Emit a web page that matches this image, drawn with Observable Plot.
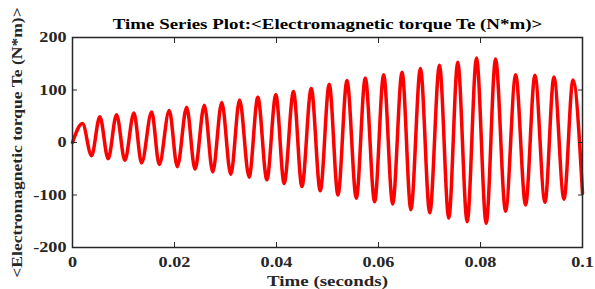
<!DOCTYPE html>
<html>
<head>
<meta charset="utf-8">
<script src="https://cdn.jsdelivr.net/npm/d3@7"></script>
<script src="https://cdn.jsdelivr.net/npm/@observablehq/plot@0.6"></script>
<style>
  html, body { margin: 0; padding: 0; background: #fff; }
  #chart svg { display: block; }
</style>
</head>
<body>
<div id="chart"></div>
<script>
// Extremum times (s) of the torque trace
const times = [0, 0.00196, 0.00373, 0.00536, 0.00699, 0.00864, 0.01027, 0.01204, 0.01355,
  0.01552, 0.01701, 0.01897, 0.02055, 0.02239, 0.02402, 0.02585, 0.0275, 0.02927, 0.03104,
  0.03276, 0.03463, 0.03634, 0.03811, 0.03987, 0.0415, 0.04333, 0.04498, 0.04681, 0.04858,
  0.05034, 0.05205, 0.05382, 0.05565, 0.05741, 0.05924, 0.06101, 0.06278, 0.06462, 0.06635,
  0.06822, 0.07005, 0.07195, 0.07378, 0.07554, 0.07739, 0.07922, 0.08112, 0.08295, 0.08492,
  0.08689, 0.08884, 0.09067, 0.09264, 0.0944, 0.09637, 0.09813, 0.1];
// Torque values (N*m) at those times
const torque = [0, 36, -25, 49, -31, 53, -34, 56, -39,
  58, -42, 61, -46, 67, -51, 71, -56, 76, -61,
  81, -66, 86, -71, 91, -78, 97, -84, 103, -92,
  111, -100, 118, -106, 123, -113, 129, -117, 134, -128,
  141, -134, 147, -144, 153, -151, 161, -154, 159, -131,
  129, -119, 128, -114, 125, -108, 119, -97];
const xTicks = [0, 0.02, 0.04, 0.06, 0.08, 0.1];
const xTickLabels = ["0", "0.02", "0.04", "0.06", "0.08", "0.1"];
const yTicks = [-200, -100, 0, 100, 200];
const yTickLabels = ["-200", "-100", "0", "100", "200"];
const title = "Time Series Plot:<Electromagnetic torque Te (N*m)>";
const xLabel = "Time (seconds)";
const yLabel = "<Electromagnetic torque Te (N*m)>";

const data = times.map((t, i) => ({t, v: torque[i]}));
const font = "'Liberation Serif', 'Times New Roman', serif";
const ink = "#262626";

const chart = Plot.plot({
  width: 595,
  height: 289,
  marginLeft: 72,
  marginRight: 13,
  marginTop: 37,
  marginBottom: 42,
  style: {fontFamily: font, fontWeight: "bold", fontSize: "15px", color: ink, background: "#fff"},
  x: {domain: [0, 0.1]},
  y: {domain: [-200, 200]},
  marks: [
    Plot.line(data, {x: "t", y: "v", stroke: "#ff0000", strokeWidth: 3.5, curve: "monotone-x"}),
    Plot.frame({stroke: ink, strokeWidth: 1.5}),
    Plot.axisX(xTicks, {anchor: "bottom", tickSize: -5, tickPadding: 14, tickFormat: (d, i) => xTickLabels[i], fontSize: 15, label: null, stroke: ink, fill: ink, className: "ticklbl"}),
    Plot.axisX(xTicks, {anchor: "top", tickSize: -5, text: null, label: null, stroke: ink}),
    Plot.axisY(yTicks, {anchor: "left", tickSize: -5, tickPadding: 11, tickFormat: (d, i) => yTickLabels[i], fontSize: 15, label: null, stroke: ink, fill: ink, className: "ticklbl"}),
    Plot.axisY(yTicks, {anchor: "right", tickSize: -5, text: null, label: null, stroke: ink}),
    Plot.text([title], {frameAnchor: "top", dy: -19, fontSize: 15, fontWeight: "bold", fill: "#000", className: "ttl"}),
    Plot.text([xLabel], {frameAnchor: "bottom", dy: 38, fontSize: 15, fontWeight: "bold", fill: ink, className: "ttl"}),
    Plot.text([yLabel], {frameAnchor: "left", textAnchor: "middle", dx: -55, rotate: -90, fontSize: 15, fontWeight: "bold", fill: ink, className: "ylbl"})
  ]
});
document.getElementById("chart").appendChild(chart);

// The reference's lettering is horizontally stretched; widen glyphs to match
function stretch(selector, k) {
  d3.select(chart).selectAll(selector + " text").each(function() {
    const L = this.getComputedTextLength();
    if (L > 0) {
      this.setAttribute("textLength", (L * k).toFixed(1));
      this.setAttribute("lengthAdjust", "spacingAndGlyphs");
    }
  });
}
stretch(".ticklbl", 1.21);
stretch(".ttl", 1.26);
stretch(".ylbl", 1.17);
</script>
</body>
</html>
